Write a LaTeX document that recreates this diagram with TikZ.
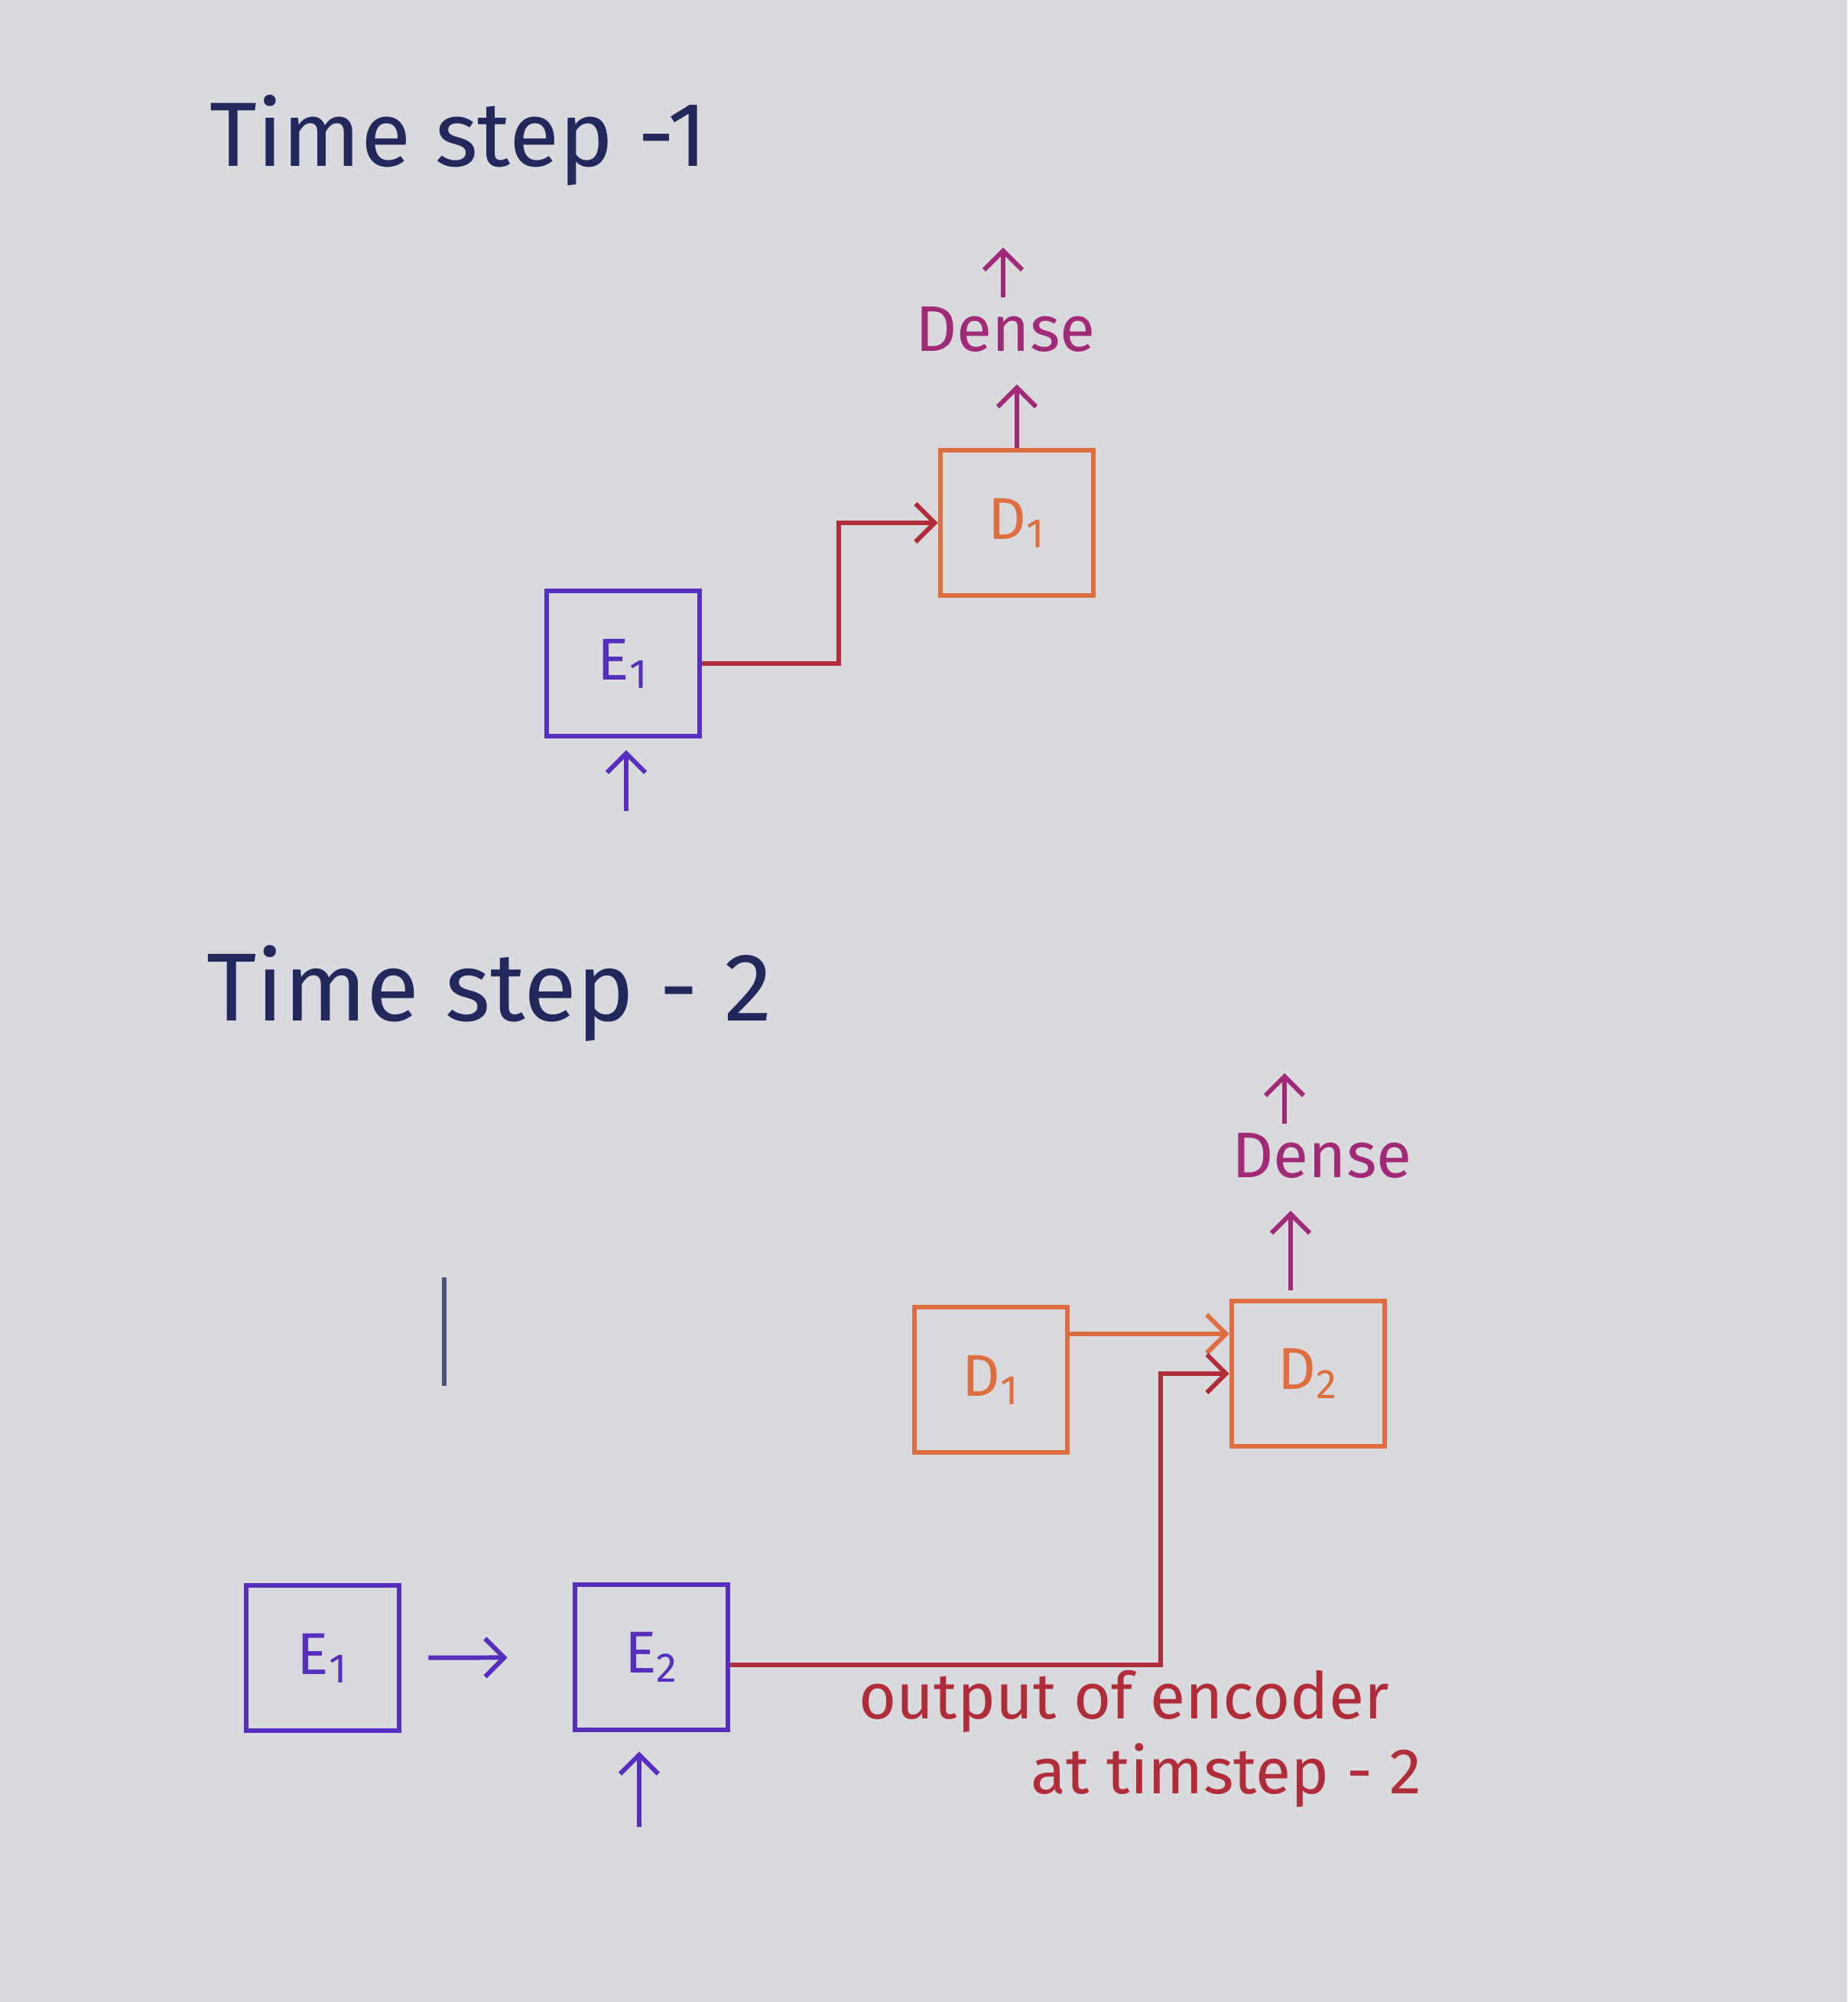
\documentclass[tikz,border=0pt]{standalone}
\usepackage{fontspec}
\setmainfont{Fira Sans}
\usetikzlibrary{arrows.meta,positioning}
\definecolor{paper}{RGB}{217,218,221}
\definecolor{encBlue}{RGB}{88,46,190}
\definecolor{decOrange}{RGB}{222,110,64}
\definecolor{denseMag}{RGB}{160,42,120}
\definecolor{linkRed}{RGB}{176,44,56}
\definecolor{titleInk}{RGB}{34,40,92}

\begin{document}
\begin{tikzpicture}[
    box/.style={draw, line width=1.9pt, minimum width=2cm, minimum height=1.9cm, font=\fontsize{22}{24}\selectfont},
    encbox/.style={box, draw=encBlue, text=encBlue},
    decbox/.style={box, draw=decOrange, text=decOrange},
    arr/.style={line width=1.7pt, -{Straight Barb[length=2.5mm,width=5mm]}},
    title/.style={text=titleInk, font=\fontsize{34}{36}\selectfont},
    dense/.style={text=denseMag, font=\fontsize{24}{26}\selectfont}
  ]

  % paper
  \fill[paper] (0,0) rectangle (24.16,26.19);
  \useasboundingbox (0,0) rectangle (24.16,26.19);

  % time step 1
  \node[title] (title1) at (6.00,24.35) {Time step -1};
  \node[encbox] (E1a) at (8.15,17.51) {E\textsubscript{1}};
  \node[decbox] (D1a) at (13.30,19.35) {D\textsubscript{1}};
  \node[dense] (dense1) at (13.15,21.88) {Dense};
  \coordinate (in1) at (8.19,15.58);
  \coordinate (out1) at (13.12,22.95);

  \draw[arr, linkRed] (E1a.east) -| ([xshift=-13mm]D1a.west) -- (D1a.west);
  \draw[arr, encBlue, shorten >=1.5mm] (in1) -- (in1 |- E1a.south);
  \draw[arr, denseMag, shorten >=3mm] (D1a.north) -- (D1a.north |- dense1.south);
  \draw[arr, denseMag] (dense1.north -| out1) -- (out1);

  % time step 2
  \node[title, font=\fontsize{36}{38}\selectfont] (title2) at (6.40,13.19) {Time step - 2};
  \node[encbox] (E1b) at (4.22,4.50) {E\textsubscript{1}};
  \node[encbox] (E2) at (8.52,4.51) {E\textsubscript{2}};
  \node[decbox] (D1b) at (12.96,8.14) {D\textsubscript{1}};
  \node[decbox] (D2) at (17.11,8.22) {D\textsubscript{2}};
  \node[dense] (dense2) at (17.29,11.07) {Dense};
  \coordinate (in2) at (8.36,2.29);
  \coordinate (out2) at (16.80,12.15);
  \coordinate (mid2) at (16.88,9.31);

  \draw[line width=1.7pt, titleInk!80] (5.81,9.48) -- (5.81,8.06);

  \draw[arr, encBlue, shorten <=3.5mm, shorten >=8.5mm] (E1b) -- (E2);
  \draw[arr, encBlue, shorten >=2.5mm] (in2) -- (in2 |- E2.south);
  \draw[arr, decOrange] ([yshift=6mm]D1b.east) -- ([yshift=6mm]D1b.east -| D2.west);
  \draw[arr, linkRed] ([yshift=-1mm]E2.east) -| ([xshift=-9mm]D2.west) -- (D2.west);
  \draw[arr, denseMag, shorten >=3mm] (mid2) -- (mid2 |- dense2.south);
  \draw[arr, denseMag] (dense2.north -| out2) -- (out2);

  \node[text=linkRed, font=\fontsize{24}{26}\selectfont] (enc1) at (14.70,3.93) {output of encoder};
  \node[text=linkRed, font=\fontsize{24}{26}\selectfont] (enc2) at (16.04,2.96) {at timstep - 2};

\end{tikzpicture}
\end{document}
